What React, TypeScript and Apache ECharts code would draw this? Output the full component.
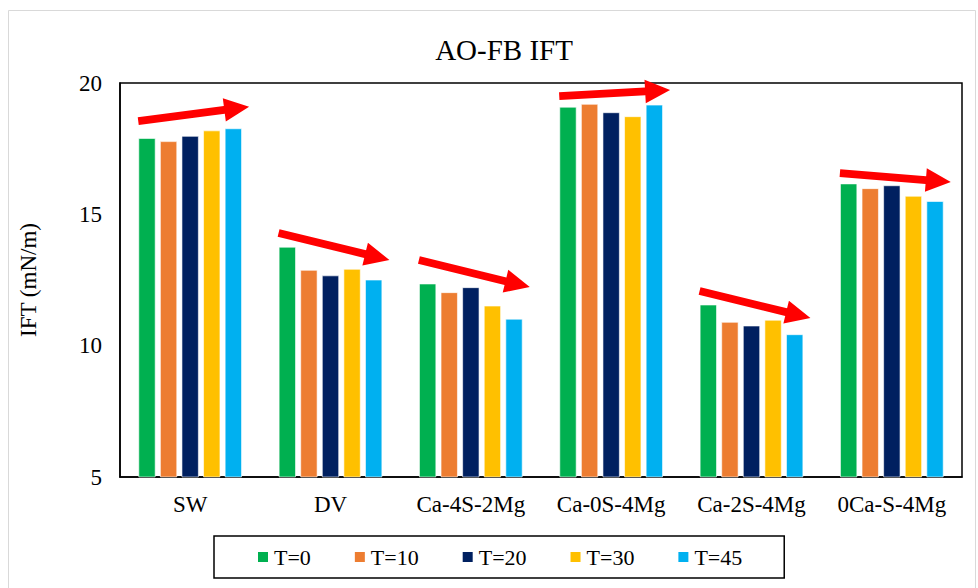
import React, { useEffect, useRef } from "react";
import * as echarts from "echarts";

const categories = ["SW", "DV", "Ca-4S-2Mg", "Ca-0S-4Mg", "Ca-2S-4Mg", "0Ca-S-4Mg"];
const seriesNames = ["T=0", "T=10", "T=20", "T=30", "T=45"];
const t0 = [17.9, 13.76, 12.36, 19.09, 11.56, 16.17];
const t10 = [17.78, 12.88, 12.03, 19.2, 10.9, 15.99];
const t20 = [17.98, 12.67, 12.22, 18.88, 10.76, 16.1];
const t30 = [18.19, 12.92, 11.52, 18.73, 10.98, 15.7];
const t45 = [18.27, 12.51, 11.02, 19.17, 10.43, 15.5];
const colors = ["#00B050", "#ED7D31", "#002060", "#FFC000", "#00B0F0"];
// trend arrows: [category index, start value, end value]
const arrows: [number, number, number][] = [
  [0, 18.55, 19.1],
  [1, 14.29, 13.26],
  [2, 13.26, 12.23],
  [3, 19.5, 19.73],
  [4, 12.08, 11.05],
  [5, 16.57, 16.23],
];
const yTicks = { min: 5, max: 20, interval: 5 };

const FONT = "'Liberation Serif', 'Times New Roman', serif";

export default function App() {
  const ref = useRef<HTMLDivElement>(null);
  useEffect(() => {
    if (!ref.current) return;
    const chart = echarts.init(ref.current, undefined, { renderer: "svg" });
    const values = [t0, t10, t20, t30, t45];
    chart.setOption({
      animation: false,
      backgroundColor: "#fff",
      title: {
        text: "AO-FB IFT",
        left: 499,
        top: 30,
        textAlign: "center",
        textStyle: { fontFamily: FONT, fontSize: 29, fontWeight: "normal", color: "#000" },
      },
      grid: {
        left: 120,
        right: 16,
        top: 83,
        bottom: 111,
        show: true,
        borderColor: "#000",
        borderWidth: 1.5,
        backgroundColor: "transparent",
      },
      legend: {
        data: seriesNames,
        left: 214,
        top: 536,
        padding: [10, 42, 10, 42],
        itemGap: 42,
        itemWidth: 12,
        itemHeight: 12,
        icon: "rect",
        borderColor: "#000",
        borderWidth: 1.5,
        textStyle: { fontFamily: FONT, fontSize: 22, color: "#000" },
      },
      xAxis: {
        type: "category",
        data: categories,
        axisTick: { show: false },
        axisLine: { show: true, lineStyle: { color: "#000", width: 1.5 } },
        axisLabel: { interval: 0, fontFamily: FONT, fontSize: 23, color: "#000", margin: 16 },
      },
      yAxis: {
        type: "value",
        min: yTicks.min,
        max: yTicks.max,
        interval: yTicks.interval,
        name: "IFT (mN/m)",
        nameLocation: "middle",
        nameGap: 80,
        nameTextStyle: { fontFamily: FONT, fontSize: 23, color: "#000" },
        splitLine: { show: false },
        axisTick: { show: false },
        axisLine: { show: true, lineStyle: { color: "#000", width: 1.5 } },
        axisLabel: { fontFamily: FONT, fontSize: 23, color: "#000", margin: 18 },
      },
      series: seriesNames.map((n, i) => ({
        name: n,
        type: "bar",
        data: values[i],
        barWidth: 17,
        barGap: "27%",
        itemStyle: { color: colors[i], borderColor: "#fff", borderWidth: 0.6 },
      })),
    });

    const p0 = chart.convertToPixel({ xAxisIndex: 0 }, 0) as number;
    const p1 = chart.convertToPixel({ xAxisIndex: 0 }, 1) as number;
    const band = p1 - p0;
    const shaftHalf = 3.9;
    const headHalf = 11.7;
    const headLen = 25;
    const graphics: any[] = [
      {
        type: "rect",
        shape: { x: 8.5, y: 10.5, width: 967, height: 600 },
        style: { fill: "none", stroke: "#d9d9d9", lineWidth: 1 },
        silent: true,
        z: 0,
      },
    ];
    arrows.forEach(([ci, v0, v1]) => {
      const cx = chart.convertToPixel({ xAxisIndex: 0 }, ci) as number;
      const x0 = cx - 0.37 * band;
      const x1 = cx + 0.42 * band;
      const y0 = chart.convertToPixel({ yAxisIndex: 0 }, v0) as number;
      const y1 = chart.convertToPixel({ yAxisIndex: 0 }, v1) as number;
      const dx = x1 - x0;
      const dy = y1 - y0;
      const L = Math.sqrt(dx * dx + dy * dy);
      const ux = dx / L;
      const uy = dy / L;
      const nx = -uy;
      const ny = ux;
      const neckX = x1 - ux * headLen;
      const neckY = y1 - uy * headLen;
      const pts = [
        [x0 + nx * shaftHalf, y0 + ny * shaftHalf],
        [neckX + nx * shaftHalf, neckY + ny * shaftHalf],
        [neckX + nx * headHalf, neckY + ny * headHalf],
        [x1, y1],
        [neckX - nx * headHalf, neckY - ny * headHalf],
        [neckX - nx * shaftHalf, neckY - ny * shaftHalf],
        [x0 - nx * shaftHalf, y0 - ny * shaftHalf],
      ];
      graphics.push({
        type: "polygon",
        shape: { points: pts },
        style: { fill: "#FF0000", stroke: "none" },
        z: 100,
        silent: true,
      });
    });
    chart.setOption({ graphic: graphics });

    return () => chart.dispose();
  }, []);
  return (
    <div
      ref={ref}
      style={{ position: "absolute", left: 0, top: 0, width: 978, height: 588 }}
    />
  );
}
